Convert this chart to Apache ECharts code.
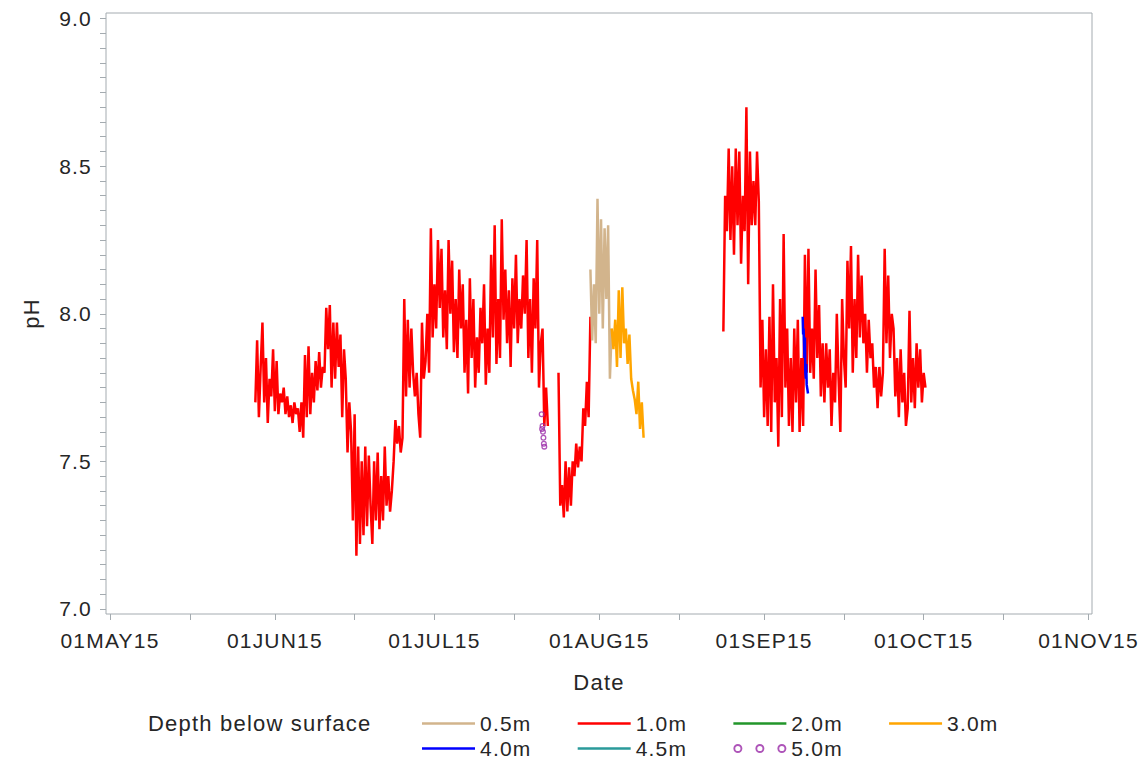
<!DOCTYPE html>
<html>
<head>
<meta charset="utf-8">
<title>pH by depth, summer 2015</title>
<script src="https://cdn.jsdelivr.net/npm/echarts@6/dist/echarts.min.js"></script>
<style>
  html, body { margin: 0; padding: 0; background: #ffffff; }
  #chart { width: 1146px; height: 763px; }
  /* slightly open tracking on all chart text */
  #chart text { letter-spacing: 1.2px; }
</style>
</head>
<body>
<div id="chart"></div>
<script>
// ---- data -------------------------------------------------------------
// Each logger record: start time (UTC), sampling step in hours, pH readings.
const DAY = 86400000;
const t = s => Date.parse(s + 'Z');

// 1.0 m sonde, three deployments
const red1Start = '2015-05-28T08:00:00';
const red1Step = 8;
const red1Values = [
  7.70,7.91,7.65, 7.82,7.97,7.70, 7.85,7.63,7.78, 7.72,7.88,7.67, 7.84,7.66,7.73,
  7.70,7.75,7.66, 7.72,7.65,7.69, 7.63,7.70,7.66, 7.68,7.60,7.70, 7.58,7.86,7.65,
  7.89,7.66,7.80, 7.70,7.84,7.74, 7.87,7.75,7.82, 7.80,8.02,7.88, 8.03,7.75,7.97,
  7.78,7.97,7.82, 7.93,7.65,7.88, 7.78,7.53,7.70, 7.60,7.30,7.66, 7.18,7.55,7.22,
  7.50,7.25,7.55, 7.28,7.52,7.35, 7.22,7.50,7.30, 7.53,7.27,7.45, 7.30,7.55,7.35,
  7.45,7.33,7.40, 7.50,7.64,7.56, 7.62,7.53,7.58, 8.05,7.72,7.98, 7.75,7.95,7.80,
  7.72,7.80,7.66, 7.58,7.97,7.78, 7.84,8.00,7.80, 8.29,7.92,8.10, 7.95,8.25,8.02,
  8.22,7.92,8.08, 7.88,8.25,8.00, 8.18,7.87,8.05, 7.85,8.15,7.95, 8.10,7.80,7.98,
  7.73,8.12,7.85, 8.05,7.75,7.92, 7.80,8.02,7.90, 8.10,7.76,7.95, 7.80,8.20,7.92,
  8.30,7.83,8.05, 7.85,8.32,7.98, 8.15,7.90,8.08, 7.82,8.12,7.95, 8.20,7.90,8.05,
  7.95,8.13,8.00, 8.25,7.85,8.05, 7.80,8.12,7.95, 8.25,7.75,7.90, 7.95,7.62,7.75,
  7.62
];

const red2Start = '2015-07-24T08:00:00';
const red2Step = 8;
const red2Values = [
  7.80,7.35,7.42, 7.31,7.50,7.33, 7.48,7.35,7.50, 7.45,7.56,7.48, 7.55,7.50,7.68,
  7.62,7.77,7.65, 7.99
];

const red3Start = '2015-08-24T08:00:00';
const red3Step = 8;
const red3Values = [
  7.94,8.40,8.28, 8.56,8.25,8.50, 8.20,8.56,8.30, 8.55,8.17,8.40, 8.28,8.70,8.10,
  8.55,8.30,8.45, 8.30,8.55,8.38, 7.75,7.98,7.65, 7.88,7.62,7.99, 7.60,8.10,7.70,
  7.85,7.55,8.05, 7.65,8.27,7.75, 7.95,7.62,7.85, 7.60,7.95,7.70, 7.98,7.60,7.85,
  7.62,8.20,7.80, 8.22,7.80,7.95, 7.78,8.15,7.85, 8.03,7.72,7.90, 7.70,7.90,7.75,
  7.88,7.62,7.80, 7.70,8.00,7.78, 7.60,8.05,7.85, 7.75,8.18,7.95, 8.23,7.80,8.05,
  7.85,8.20,7.92, 8.13,7.90,8.00, 7.80,7.98,7.85, 7.90,7.75,7.82, 7.68,7.82,7.72,
  7.80,8.22,7.90, 8.13,7.85,8.00, 7.95,7.72,7.85, 7.65,7.88,7.70, 7.80,7.62,7.68,
  8.01,7.70,7.85, 7.68,7.90,7.75, 7.88,7.70,7.80,
  7.75
];

// 0.5 m
const tanStart = '2015-07-30T08:00:00';
const tanStep = 8;
const tanValues = [8.15,7.91,8.10,7.90,8.39,8.00,8.32,7.95,8.29,8.05,8.30,7.78,7.95];

// 3.0 m
const orangeStart = '2015-08-03T08:00:00';
const orangeStep = 8;
const orangeValues = [
  7.95,7.88,7.98,7.82,8.08,7.85,8.09,7.90,7.95,7.83,
  7.93,7.78,7.74,7.71,7.66,7.77,7.61,7.70,7.58
];

// 4.0 m
const blueStart = '2015-09-08T06:00:00';
const blueStep = 2;
const blueValues = [7.99,7.93,7.95,7.90,7.85,7.92,7.80,7.78,7.83,7.76,7.75,7.74,7.73];

// 5.0 m
const purpleStart = '2015-07-21T04:00:00';
const purpleStep = 2;
const purpleValues = [7.66,7.61,7.62,7.60,7.58,7.56,7.55];

// 2.0 m and 4.5 m: no readings in this window
const greenValues = [];
const tealValues = [];

// axis ticks
const monthStarts = ['2015-05-01','2015-06-01','2015-07-01','2015-08-01','2015-09-01','2015-10-01','2015-11-01'];
const monthLabels = ['01MAY15','01JUN15','01JUL15','01AUG15','01SEP15','01OCT15','01NOV15'];
const midMonths = ['2015-05-16','2015-06-16','2015-07-16','2015-08-16','2015-09-16','2015-10-16'];
const phLabels = [7.0, 7.5, 8.0, 8.5, 9.0];

const depthNames = ['0.5m','1.0m','2.0m','3.0m','4.0m','4.5m','5.0m'];
const depthColors = {
  '0.5m': '#d2b48c', '1.0m': '#ff0000', '2.0m': '#22962a', '3.0m': '#ffa500',
  '4.0m': '#0000ff', '4.5m': '#2a9a9a', '5.0m': '#9a2aa8'
};

// ---- helpers ----------------------------------------------------------
function toPairs(start, stepHours, values) {
  const t0 = t(start);
  return values.map((v, i) => [t0 + i * stepHours * 3600000, v]);
}
function joinRuns(runs) {
  // a null row between deployments breaks the line
  const out = [];
  runs.forEach((r, i) => {
    if (i > 0) out.push([r[0][0] - 3600000, null]);
    out.push(...r);
  });
  return out;
}

const redData = joinRuns([
  toPairs(red1Start, red1Step, red1Values),
  toPairs(red2Start, red2Step, red2Values),
  toPairs(red3Start, red3Step, red3Values)
]);

const monthTimes = monthStarts.map(d => t(d + 'T00:00:00'));
const tickTimes = monthTimes.concat(midMonths.map(d => t(d + 'T00:00:00'))).sort((a, b) => a - b);
const phTicks = [];
for (let i = 0; i <= 40; i++) phTicks.push(+(7 + i * 0.05).toFixed(2));

const textColor = '#262626';
const axisGray = '#a4abb0';
const fontFamily = '"Liberation Sans", Arial, sans-serif';

// ring glyph (outer and inner circles wound in opposite directions leave a hole)
function ringPath(cx) {
  return 'M' + (cx - 4.5) + ' 4.5A4.5 4.5 0 1 1 ' + (cx + 4.5) + ' 4.5A4.5 4.5 0 1 1 ' + (cx - 4.5) + ' 4.5Z ' +
         'M' + (cx - 2.6) + ' 4.5A2.6 2.6 0 1 0 ' + (cx + 2.6) + ' 4.5A2.6 2.6 0 1 0 ' + (cx - 2.6) + ' 4.5Z ';
}
const ringSymbol = 'path://' + ringPath(4.5);
const ringIcon = 'path://' + ringPath(4.5) + ringPath(26.5) + ringPath(48.5);
const barIcon = 'path://M0 0H53V2.6H0Z';

function lineSeries(name, data) {
  return {
    name, type: 'line', data, showSymbol: false, symbol: 'none',
    connectNulls: false, lineStyle: { color: depthColors[name], width: 2.5 },
    itemStyle: { color: depthColors[name] }, z: 2
  };
}

const legendBase = {
  left: 422, padding: 0, itemWidth: 53, itemHeight: 14, itemGap: 51, selectedMode: false,
  textStyle: { fontSize: 21, color: textColor, fontFamily },
  itemStyle: { borderWidth: 0 }
};
function legendItem(name) {
  return {
    name,
    icon: name === '5.0m' ? ringIcon : barIcon,
    itemStyle: { color: depthColors[name], borderWidth: 0 }
  };
}

const chart = echarts.init(document.getElementById('chart'), null, { renderer: 'svg' });
chart.setOption({
  animation: false,
  backgroundColor: '#ffffff',
  textStyle: { fontFamily },
  grid: {
    left: 106, right: 54, top: 13, bottom: 149,
    show: true, borderColor: axisGray, borderWidth: 1, backgroundColor: 'transparent'
  },
  title: {
    text: 'Depth below surface', left: 148, top: 712, padding: 0,
    textStyle: { fontSize: 22, fontWeight: 'normal', color: textColor, fontFamily }
  },
  legend: [
    Object.assign({ top: 713, data: depthNames.slice(0, 4).map(legendItem) }, legendBase),
    Object.assign({ top: 738, data: depthNames.slice(4).map(legendItem) }, legendBase)
  ],
  xAxis: {
    type: 'value',
    min: monthTimes[0] - 0.75 * DAY,
    max: monthTimes[monthTimes.length - 1] + 0.65 * DAY,
    axisLine: { show: false, onZero: false },
    splitLine: { show: false },
    axisTick: { show: true, length: 6, lineStyle: { color: axisGray }, customValues: tickTimes },
    axisLabel: {
      customValues: monthTimes, margin: 16, fontSize: 21, color: textColor, fontFamily,
      formatter: v => monthLabels[monthTimes.indexOf(v)] || ''
    },
    name: 'Date', nameLocation: 'middle', nameGap: 57,
    nameTextStyle: { fontSize: 22, color: textColor, fontFamily }
  },
  yAxis: {
    type: 'value', min: 6.983, max: 9.019,
    axisLine: { show: false, onZero: false },
    splitLine: { show: false },
    axisTick: { show: true, length: 6, lineStyle: { color: axisGray }, customValues: phTicks },
    axisLabel: {
      customValues: phLabels, margin: 14, fontSize: 21, color: textColor, fontFamily,
      formatter: v => Number(v).toFixed(1)
    },
    name: 'pH', nameLocation: 'middle', nameGap: 64, nameRotate: 90,
    nameTextStyle: { fontSize: 22, color: textColor, fontFamily }
  },
  series: [
    lineSeries('1.0m', redData),
    lineSeries('0.5m', toPairs(tanStart, tanStep, tanValues)),
    lineSeries('2.0m', greenValues),
    lineSeries('3.0m', toPairs(orangeStart, orangeStep, orangeValues)),
    lineSeries('4.0m', toPairs(blueStart, blueStep, blueValues)),
    lineSeries('4.5m', tealValues),
    {
      name: '5.0m', type: 'scatter', data: toPairs(purpleStart, purpleStep, purpleValues),
      symbol: ringSymbol, symbolSize: 6, z: 3,
      itemStyle: { color: depthColors['5.0m'], borderWidth: 0 }
    }
  ]
});
</script>
</body>
</html>
